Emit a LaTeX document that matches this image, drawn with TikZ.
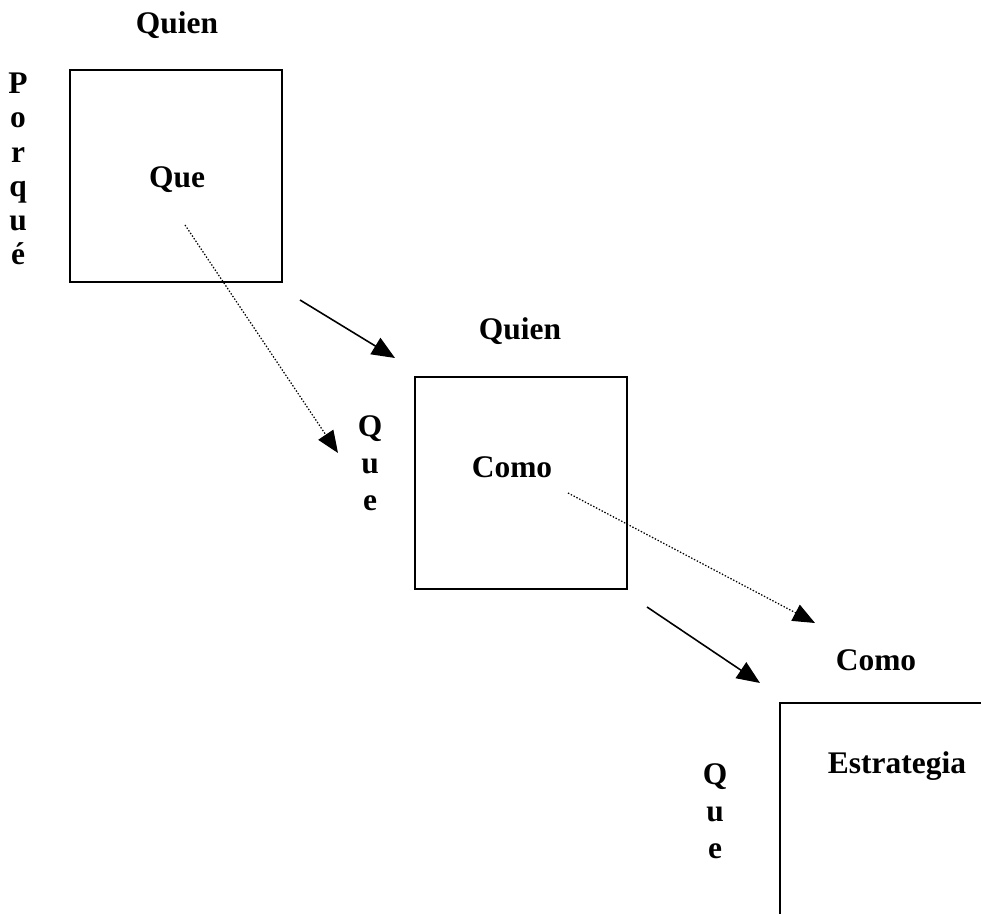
\documentclass[tikz,border=0pt]{standalone}
\usepackage{fontspec}
\setmainfont{Liberation Serif}
\usetikzlibrary{arrows.meta}

\tikzset{
  caja/.style={draw, line width=0.9pt, minimum size=4.24cm, inner sep=0pt},
  etiq/.style={font=\fontsize{17.9}{19.5}\selectfont\bfseries},
  vert/.style={etiq, align=center},
  flecha/.style={line width=0.9pt, -{Triangle[length=0.46cm,width=0.38cm]}},
  punteada/.style={line width=0.7pt, dash pattern=on 0.8pt off 1pt, -{Triangle[length=0.44cm,width=0.36cm]}}
}

\begin{document}
\begin{tikzpicture}
\useasboundingbox (0,0) rectangle (19.62,18.26);
\clip (0,0) rectangle (19.62,18.26);

% Cajas
\node[caja] (cajaQue) at (3.52,14.74) {};
\node[caja] (cajaComo) at (10.42,8.60) {};
\node[caja] (cajaEstr) at (17.72,2.08) {};

% Textos de la primera caja
\node[etiq] (quien1) at (3.54,17.76) {Quien};
\node[etiq] (que1) at (3.54,14.66) {Que};
\node[vert] (porque) at (0.36,14.88) {P\\o\\r\\q\\u\\é};

% Textos de la segunda caja
\node[etiq] (quien2) at (10.40,11.64) {Quien};
\node[etiq] (como2) at (10.24,8.92) {Como};
\node[vert] (queV1) at (7.40,9.00) {Q\\[1.5pt]u\\[1.5pt]e};

% Textos de la tercera caja
\node[etiq] (como3) at (17.52,5.06) {Como};
\node[etiq] (estrategia) at (17.94,2.94) {Estrategia};
\node[vert] (queV2) at (14.30,2.04) {Q\\[1.5pt]u\\[1.5pt]e};

% Extremos de las flechas
\coordinate (a1) at (6.00,12.26);
\coordinate (b1) at (7.90,11.10);
\coordinate (a2) at (12.94,6.12);
\coordinate (b2) at (15.20,4.60);
\coordinate (p1) at (3.70,13.76);
\coordinate (q1) at (6.76,9.20);
\coordinate (p2) at (11.36,8.40);
\coordinate (q2) at (16.30,5.80);

\draw[flecha] (a1) -- (b1);
\draw[flecha] (a2) -- (b2);
\draw[punteada] (p1) -- (q1);
\draw[punteada] (p2) -- (q2);
\end{tikzpicture}
\end{document}
